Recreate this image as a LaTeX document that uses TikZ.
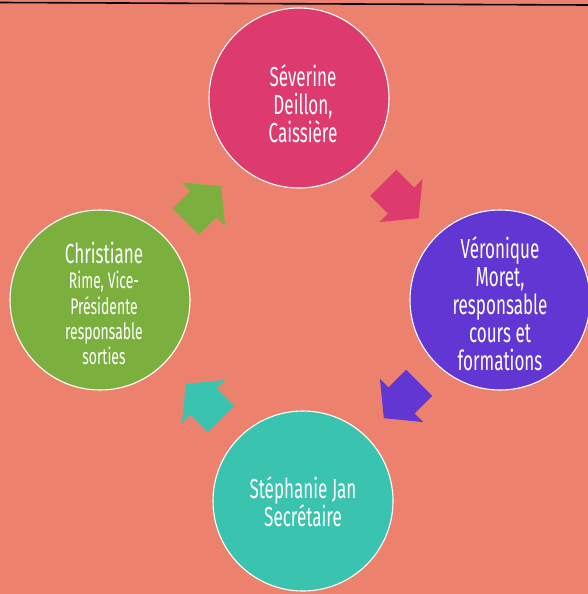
\documentclass[tikz,border=0pt]{standalone}
\usepackage{fontspec}
\setmainfont[FakeStretch=0.62]{Fira Sans}
\usetikzlibrary{calc}
\definecolor{bgsalmon}{RGB}{236,130,110}
\definecolor{cpink}{RGB}{221,58,110}
\definecolor{cpurple}{RGB}{98,54,210}
\definecolor{cteal}{RGB}{58,196,176}
\definecolor{cgreen}{RGB}{124,176,62}
\newcommand{\smalltxt}{\fontsize{22.5}{24}\selectfont}
\tikzset{
  member/.style={circle, minimum size=180pt, inner sep=0pt, draw=white, line width=1.1pt},
  membertext/.style={inner sep=0pt, text=white, align=center, font=\fontsize{27.5}{28}\selectfont},
  blockarrow/.pic={
    \fill[pic actions] (-25,-18.5) -- (0,-18.5) -- (0,-30.5) -- (25,0) -- (0,30.5) -- (0,18.5) -- (-25,18.5) -- cycle;
  }
}
\begin{document}
\begin{tikzpicture}[x=1pt,y=-1pt]
\fill[bgsalmon] (0,0) rectangle (588,594);
\useasboundingbox (0,0) rectangle (588,594);
\draw[black, line width=1.6pt] (0,2.5) -- (588,5);
\node[member, fill=cpink] (top) at (299,98) {};
\node[member, fill=cpurple] (right) at (500,300) {};
\node[member, fill=cteal] (bottom) at (303,501) {};
\node[member, fill=cgreen] (left) at (100,300) {};
\node[membertext] (topText) at ($(top)+(4,6)$) {Séverine\\Deillon,\\Caissière};
\node[membertext] (rightText) at ($(right)+(0,4)$) {Véronique\\Moret,\\responsable\\cours et\\formations};
\node[membertext] (bottomText) at ($(bottom)+(0,1)$) {Stéphanie Jan\\Secrétaire};
\node[membertext] (leftText) at ($(left)+(4,3)$) {Christiane\\[-3pt]{\smalltxt Rime, Vice-}\\[-2pt]{\smalltxt Présidente}\\[-3pt]{\smalltxt responsable}\\[-3pt]{\smalltxt sorties}};
\pic[fill=cpink, rotate=-45] at ($(top)!0.5!(right)+(1.5,1.5)$) {blockarrow};
\pic[fill=cpurple, rotate=-135] at ($(right)!0.5!(bottom)$) {blockarrow};
\pic[fill=cteal, rotate=135] at ($(bottom)!0.5!(left)+(2,1)$) {blockarrow};
\pic[fill=cgreen, rotate=45] at ($(left)!0.5!(top)+(4,5)$) {blockarrow};
\end{tikzpicture}
\end{document}
